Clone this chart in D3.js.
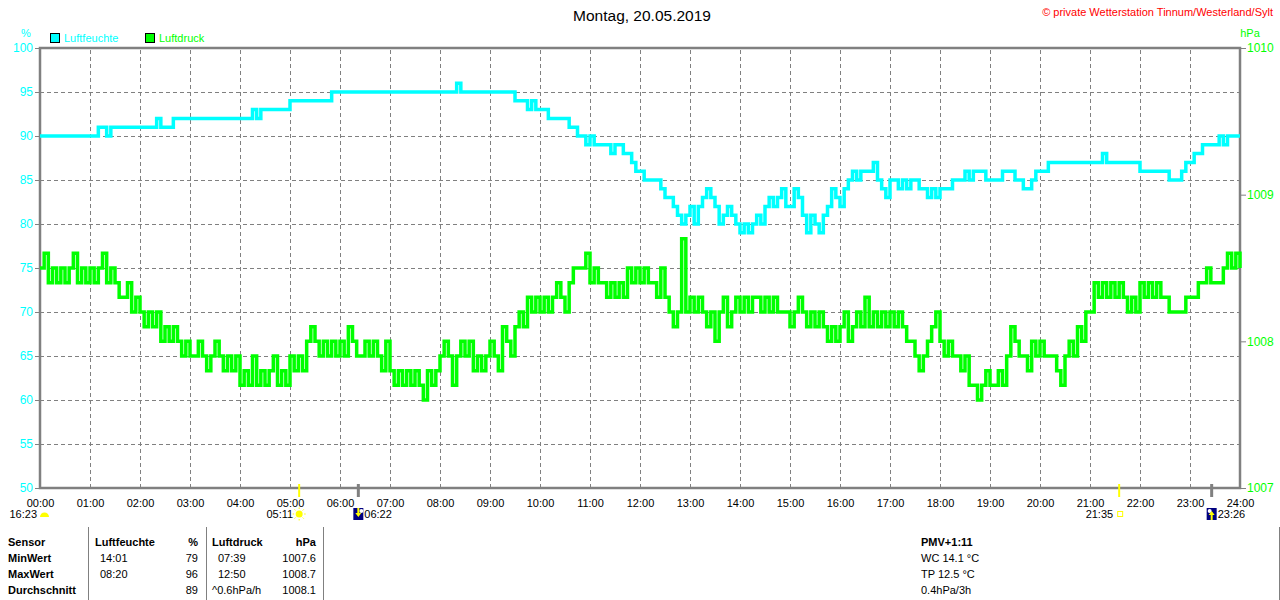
<!DOCTYPE html>
<html lang="de">
<head>
<meta charset="utf-8">
<title>Luftfeuchte / Luftdruck 20.05.2019</title>
<script src="https://d3js.org/d3.v7.min.js"></script>
<style>
	body { margin: 0; background: #fff; }
	svg { display: block; font-family: "Liberation Sans", Arial, sans-serif; }
	.grid line { stroke: #808080; stroke-dasharray: 4, 3; shape-rendering: crispEdges; }
	.grid .domain { display: none; }
	.axis .domain { display: none; }
</style>
</head>
<body>
<script>
// colours
var cyan = "#00ffff"
var green = "#00ff00"
var gray = "#808080"
var yellow = "#ffff00"
var navy = "#000080"

// ---- data ----
var title = "Montag, 20.05.2019"
var copyright = "\u00a9 private Wetterstation Tinnum/Westerland/Sylt"
var stepMinutes = 5   // one sample every 5 minutes, 00:00 .. 24:00

// Luftfeuchte in %, one row per hour
var humidity = [
	90,90,90,90,90,90,90,90,90,90,90,90,
	90,90,91,91,90,91,91,91,91,91,91,91,
	91,91,91,91,92,91,91,91,92,92,92,92,
	92,92,92,92,92,92,92,92,92,92,92,92,
	92,92,92,93,92,93,93,93,93,93,93,93,
	94,94,94,94,94,94,94,94,94,94,95,95,
	95,95,95,95,95,95,95,95,95,95,95,95,
	95,95,95,95,95,95,95,95,95,95,95,95,
	95,95,95,95,96,95,95,95,95,95,95,95,
	95,95,95,95,95,95,94,94,94,93,94,93,
	93,93,92,92,92,92,92,91,91,90,90,89,
	90,89,89,89,89,88,89,89,88,88,87,86,
	86,85,85,85,85,84,83,83,82,81,80,81,
	82,80,82,83,84,83,82,80,81,82,81,80,
	79,80,79,80,81,80,82,83,82,83,84,82,
	82,84,83,81,79,81,80,79,81,82,84,83,
	82,84,85,86,85,86,86,86,87,85,84,83,
	85,85,84,85,84,85,85,84,84,83,84,83,
	84,84,84,85,85,85,86,85,86,86,86,85,
	85,85,85,86,86,86,85,85,84,84,85,86,
	86,86,87,87,87,87,87,87,87,87,87,87,
	87,87,87,88,87,87,87,87,87,87,87,87,
	86,86,86,86,86,86,86,85,85,85,86,87,
	87,88,88,89,89,89,89,90,89,90,90,90,
	90
]

// Luftdruck in hPa, one row per hour
var pressure = [
	1008.5,1008.6,1008.4,1008.5,1008.4,1008.5,1008.4,1008.5,1008.6,1008.4,1008.5,1008.4,
	1008.5,1008.4,1008.5,1008.6,1008.4,1008.5,1008.4,1008.3,1008.3,1008.4,1008.2,1008.3,
	1008.2,1008.1,1008.2,1008.1,1008.2,1008.0,1008.1,1008.0,1008.1,1008.0,1007.9,1008.0,
	1007.9,1007.9,1008.0,1007.9,1007.8,1007.9,1008.0,1007.9,1007.8,1007.9,1007.8,1007.9,
	1007.7,1007.8,1007.7,1007.9,1007.7,1007.8,1007.7,1007.8,1007.9,1007.7,1007.8,1007.7,
	1007.9,1007.8,1007.9,1007.8,1008.0,1008.1,1008.0,1007.9,1008.0,1007.9,1008.0,1007.9,
	1008.0,1007.9,1008.1,1008.0,1007.9,1007.9,1008.0,1007.9,1008.0,1007.9,1007.8,1008.0,
	1007.8,1007.7,1007.8,1007.7,1007.8,1007.7,1007.8,1007.7,1007.6,1007.8,1007.7,1007.8,
	1007.9,1008.0,1007.9,1007.7,1007.9,1008.0,1007.9,1008.0,1007.8,1007.9,1007.8,1007.9,
	1008.0,1007.9,1007.8,1008.1,1008.0,1007.9,1008.1,1008.2,1008.1,1008.3,1008.2,1008.3,
	1008.2,1008.3,1008.2,1008.3,1008.4,1008.3,1008.2,1008.4,1008.5,1008.5,1008.5,1008.6,
	1008.4,1008.5,1008.4,1008.4,1008.3,1008.4,1008.3,1008.4,1008.3,1008.5,1008.4,1008.5,
	1008.4,1008.5,1008.4,1008.4,1008.3,1008.5,1008.3,1008.2,1008.1,1008.2,1008.7,1008.2,
	1008.3,1008.2,1008.3,1008.2,1008.1,1008.2,1008.0,1008.2,1008.3,1008.1,1008.2,1008.3,
	1008.2,1008.3,1008.2,1008.3,1008.3,1008.2,1008.3,1008.2,1008.3,1008.2,1008.2,1008.2,
	1008.1,1008.2,1008.3,1008.2,1008.1,1008.2,1008.1,1008.2,1008.1,1008.0,1008.1,1008.0,
	1008.1,1008.2,1008.0,1008.1,1008.2,1008.1,1008.3,1008.1,1008.2,1008.1,1008.2,1008.1,
	1008.2,1008.1,1008.2,1008.1,1008.0,1008.0,1007.9,1007.8,1007.9,1008.0,1008.1,1008.2,
	1008.0,1007.9,1008.0,1007.9,1007.9,1007.8,1007.9,1007.7,1007.7,1007.6,1007.7,1007.8,
	1007.7,1007.7,1007.8,1007.7,1007.9,1008.1,1008.0,1007.9,1007.9,1007.8,1008.0,1007.9,
	1008.0,1007.9,1007.9,1007.9,1007.8,1007.7,1007.9,1008.0,1007.9,1008.1,1008.0,1008.2,
	1008.2,1008.4,1008.3,1008.4,1008.3,1008.4,1008.3,1008.4,1008.3,1008.2,1008.3,1008.2,
	1008.4,1008.3,1008.4,1008.3,1008.4,1008.3,1008.3,1008.2,1008.2,1008.2,1008.2,1008.3,
	1008.3,1008.3,1008.4,1008.4,1008.5,1008.4,1008.4,1008.4,1008.5,1008.6,1008.5,1008.6,
	1008.5
]

var humTicks = [50, 55, 60, 65, 70, 75, 80, 85, 90, 95, 100]
var presTicks = [1007, 1008, 1009, 1010]

// sun / moon times
var startLabel = "16:23"
var sunTimes = ["05:11", "21:35"]
var moonTimes = ["06:22", "23:26"]

// table below the chart
var rowNames = ["Sensor", "MinWert", "MaxWert", "Durchschnitt"]
var humHeader = ["Luftfeuchte", "%"]
var humTimes = ["14:01", "08:20", ""]
var humValues = ["79", "96", "89"]
var presHeader = ["Luftdruck", "hPa"]
var presTimes = ["07:39", "12:50", "^0.6hPa/h"]
var presValues = ["1007.6", "1008.7", "1008.1"]
var extraLines = ["PMV+1:11", "WC 14.1 \u00b0C", "TP 12.5 \u00b0C", "0.4hPa/3h"]

// ---- layout ----
var w = 1280, h = 600
var plotL = 40, plotR = 1240, plotT = 48, plotB = 488

function toMinutes(s) { var p = s.split(":"); return +p[0] * 60 + +p[1] }

var xScale = d3.scaleLinear().domain([0, 1440]).range([plotL, plotR])
var yHum = d3.scaleLinear().domain([50, 100]).range([plotB, plotT])
var yPres = d3.scaleLinear().domain([1007, 1010]).range([plotB, plotT])

var svg = d3.select("body").append("svg")
	.attr("width", w)
	.attr("height", h)

svg.append("rect").attr("width", w).attr("height", h).attr("fill", "#fff")

// title + copyright
svg.append("text")
	.attr("x", 642).attr("y", 21)
	.attr("text-anchor", "middle")
	.style("font-size", "15.5px")
	.text(title)
svg.append("text")
	.attr("x", 1273).attr("y", 16)
	.attr("text-anchor", "end")
	.attr("fill", "#ff0000")
	.style("font-size", "11px")
	.text(copyright)

// grid
var hourTicks = d3.range(0, 1441, 60)
svg.append("g")
	.attr("class", "grid")
	.attr("transform", "translate(0," + plotB + ")")
	.call(d3.axisBottom(xScale).tickValues(hourTicks.slice(1, -1)).tickSize(-(plotB - plotT)).tickFormat(""))
svg.append("g")
	.attr("class", "grid")
	.attr("transform", "translate(" + plotL + ",0)")
	.call(d3.axisLeft(yHum).tickValues(humTicks.slice(1, -1)).tickSize(-(plotR - plotL)).tickFormat(""))

// frame
svg.append("rect")
	.attr("x", plotL).attr("y", plotT)
	.attr("width", plotR - plotL).attr("height", plotB - plotT)
	.attr("fill", "none")
	.attr("stroke", gray)
	.attr("stroke-width", 2.5)

// left axis (%)
var leftAxis = svg.append("g")
	.attr("class", "axis")
	.attr("transform", "translate(" + plotL + ",0)")
	.call(d3.axisLeft(yHum).tickValues(humTicks).tickSize(5).tickPadding(2))
leftAxis.selectAll("line").attr("stroke", gray)
leftAxis.selectAll("text").attr("fill", cyan).style("font-size", "12px").style("font-family", "Liberation Sans, Arial, sans-serif")
svg.append("text").attr("x", 26).attr("y", 37).attr("text-anchor", "middle")
	.attr("fill", cyan).style("font-size", "11px").text("%")

// right axis (hPa)
var rightAxis = svg.append("g")
	.attr("class", "axis")
	.attr("transform", "translate(" + plotR + ",0)")
	.call(d3.axisRight(yPres).tickValues(presTicks).tickSize(6).tickPadding(1).tickFormat(d3.format("d")))
rightAxis.selectAll("line").attr("stroke", gray)
rightAxis.selectAll("text").attr("fill", green).style("font-size", "12px").style("font-family", "Liberation Sans, Arial, sans-serif")
svg.append("text").attr("x", 1250).attr("y", 37).attr("text-anchor", "middle")
	.attr("fill", green).style("font-size", "11px").text("hPa")

// bottom axis (hours)
var bottomAxis = svg.append("g")
	.attr("class", "axis")
	.attr("transform", "translate(0," + plotB + ")")
	.call(d3.axisBottom(xScale).tickValues(hourTicks).tickSize(0).tickPadding(11)
		.tickFormat(function (m) { return d3.format("02")(m / 60) + ":00" }))
bottomAxis.selectAll("text").attr("fill", "#000").style("font-size", "11px").style("font-family", "Liberation Sans, Arial, sans-serif")

// legend
var legend = [{ name: "Luftfeuchte", color: cyan, x: 50 }, { name: "Luftdruck", color: green, x: 145 }]
legend.forEach(function (d) {
	svg.append("rect").attr("x", d.x + 0.5).attr("y", 33.5).attr("width", 9).attr("height", 9)
		.attr("fill", d.color).attr("stroke", "#000")
	svg.append("text").attr("x", d.x + 14).attr("y", 42)
		.attr("fill", d.color).style("font-size", "11px").text(d.name)
})

// data lines
var humData = humidity.map(function (v, i) { return { t: i * stepMinutes, v: v } })
var presData = pressure.map(function (v, i) { return { t: i * stepMinutes, v: v } })

var humLine = d3.line().x(function (d) { return xScale(d.t) }).y(function (d) { return yHum(d.v) }).curve(d3.curveStepAfter)
var presLine = d3.line().x(function (d) { return xScale(d.t) }).y(function (d) { return yPres(d.v) }).curve(d3.curveStepAfter)

svg.append("path")
	.attr("d", humLine(humData))
	.attr("fill", "none")
	.attr("stroke", cyan)
	.attr("stroke-width", 3.5)
	.attr("stroke-linejoin", "miter")
svg.append("path")
	.attr("d", presLine(presData))
	.attr("fill", "none")
	.attr("stroke", green)
	.attr("stroke-width", 3.5)
	.attr("stroke-linejoin", "miter")

// sun rise / set markers
sunTimes.forEach(function (t, i) {
	var sx = xScale(toMinutes(t))
	svg.append("line").attr("x1", sx).attr("x2", sx).attr("y1", 484).attr("y2", 497)
		.attr("stroke", yellow).attr("stroke-width", 2)
	svg.append("text").attr("x", sx - 6).attr("y", 518).attr("text-anchor", "end")
		.style("font-size", "11px").text(t)
	if (i == 0) {
		// full sun
		svg.append("circle").attr("cx", sx).attr("cy", 514).attr("r", 3.5).attr("fill", yellow)
		d3.range(0, 360, 45).forEach(function (a) {
			var r = a * Math.PI / 180
			svg.append("line")
				.attr("x1", sx + 5 * Math.cos(r)).attr("y1", 514 + 5 * Math.sin(r))
				.attr("x2", sx + 6.5 * Math.cos(r)).attr("y2", 514 + 6.5 * Math.sin(r))
				.attr("stroke", yellow).attr("stroke-width", 1)
		})
	} else {
		svg.append("rect").attr("x", sx - 1.5).attr("y", 511.5).attr("width", 5).attr("height", 5)
			.attr("fill", "none").attr("stroke", yellow)
	}
})

// moon rise / set markers
moonTimes.forEach(function (t, i) {
	var mx = xScale(toMinutes(t))
	svg.append("line").attr("x1", mx).attr("x2", mx).attr("y1", 484).attr("y2", 497)
		.attr("stroke", gray).attr("stroke-width", 3)
	svg.append("rect").attr("x", mx - 5).attr("y", 508).attr("width", 10).attr("height", 12).attr("fill", navy)
	svg.append("circle").attr("cx", mx + (i == 0 ? 3 : -2)).attr("cy", 511).attr("r", 2).attr("fill", "#fff")
	var up = i == 1
	svg.append("path")
		.attr("d", up
			? "M" + mx + ",511 l-3,4 h2 v5 h2 v-5 h2 z"
			: "M" + mx + ",517 l-3,-4 h2 v-5 h2 v5 h2 z")
		.attr("fill", yellow)
	svg.append("text").attr("x", mx + 6).attr("y", 518)
		.style("font-size", "11px").text(t)
})

// start of day label with half sun
svg.append("text").attr("x", 37).attr("y", 518).attr("text-anchor", "end")
	.style("font-size", "11px").text(startLabel)
svg.append("path").attr("d", "M40,517 a4.5,4.5 0 0,1 9,0 z").attr("fill", yellow)

// ---- table ----
var rowY = [546, 562, 578, 594]
var sepX = [88, 206, 323]
sepX.forEach(function (sx) {
	svg.append("line").attr("x1", sx + 0.5).attr("x2", sx + 0.5).attr("y1", 527).attr("y2", 600)
		.attr("stroke", gray)
})
svg.append("line").attr("x1", 1279.5).attr("x2", 1279.5).attr("y1", 527).attr("y2", 600).attr("stroke", gray)

var tableText = svg.append("g").style("font-size", "11px")
rowNames.forEach(function (r, i) {
	tableText.append("text").attr("x", 8).attr("y", rowY[i]).style("font-weight", "bold").text(r)
})
tableText.append("text").attr("x", 95).attr("y", rowY[0]).style("font-weight", "bold").text(humHeader[0])
tableText.append("text").attr("x", 198).attr("y", rowY[0]).attr("text-anchor", "end").style("font-weight", "bold").text(humHeader[1])
tableText.append("text").attr("x", 212).attr("y", rowY[0]).style("font-weight", "bold").text(presHeader[0])
tableText.append("text").attr("x", 316).attr("y", rowY[0]).attr("text-anchor", "end").style("font-weight", "bold").text(presHeader[1])
humTimes.forEach(function (t, i) {
	tableText.append("text").attr("x", 100).attr("y", rowY[i + 1]).text(t)
	tableText.append("text").attr("x", 198).attr("y", rowY[i + 1]).attr("text-anchor", "end").text(humValues[i])
})
presTimes.forEach(function (t, i) {
	tableText.append("text").attr("x", t.charAt(0) == "^" ? 212 : 218).attr("y", rowY[i + 1]).text(t)
	tableText.append("text").attr("x", 316).attr("y", rowY[i + 1]).attr("text-anchor", "end").text(presValues[i])
})
extraLines.forEach(function (t, i) {
	tableText.append("text").attr("x", 921).attr("y", rowY[i])
		.style("font-weight", i == 0 ? "bold" : "normal").text(t)
})
</script>
</body>
</html>
